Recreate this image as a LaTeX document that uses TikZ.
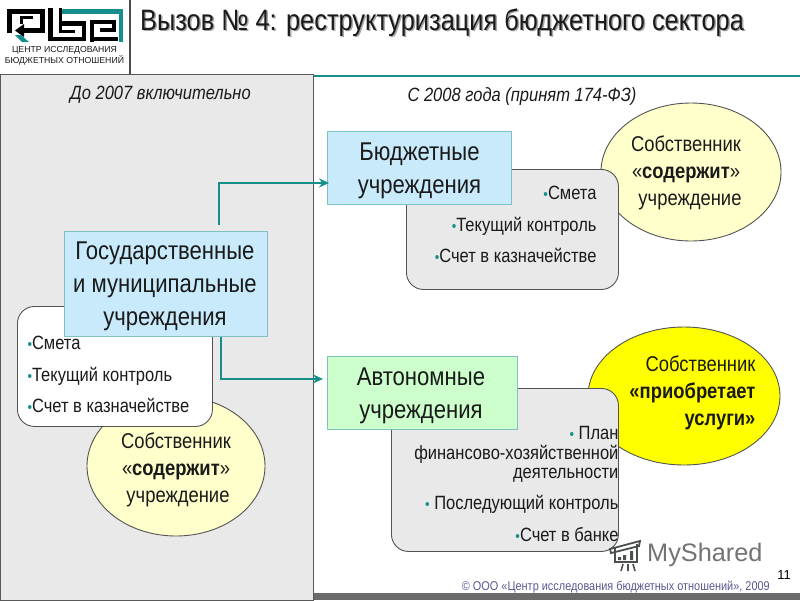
\documentclass[tikz,border=0pt]{standalone}
\usepackage{fontspec}
\setmainfont{Liberation Sans}
\newfontfamily\nf[FakeStretch=0.86]{Liberation Sans}
\usetikzlibrary{arrows.meta,calc}
\definecolor{teal1}{HTML}{168F8C}
\definecolor{panel}{HTML}{E9E9E9}
\definecolor{ylw}{HTML}{FFFFCC}
\definecolor{ylw2}{HTML}{FFFF00}
\definecolor{bluebox}{HTML}{C8EAFB}
\definecolor{greenbox}{HTML}{CCFFCC}
\definecolor{ink}{HTML}{1A1A1A}
\definecolor{wm}{HTML}{4A4F4F}
\tikzset{
 bigbox/.style={draw=teal1!55!white,line width=.9pt,inner sep=0pt},
 bigtxt/.style={align=center,font=\nf\fontsize{25.7}{33}\selectfont,text=ink,inner sep=0pt},
 note/.style={draw=ink!75,line width=.9pt,rounded corners=17pt,inner sep=0pt},
 body/.style={font=\nf\fontsize{19.2}{31}\selectfont,text=ink,align=center},
 sm/.style={font=\nf\fontsize{19.2}{23}\selectfont,text=ink},
 ownertxt/.style={font=\nf\fontsize{21.4}{27}\selectfont,text=ink},
 capt/.style={font=\nf\itshape\fontsize{19.2}{20}\selectfont,text=ink},
 link/.style={draw=teal1,line width=2.6pt,-{Stealth[length=10pt,width=9pt]}},
 lgk/.style={line width=4.5pt,line cap=butt,miter limit=10,black},
 lgi/.style={line width=3.6pt,line cap=butt,black},
 lgt/.style={line width=4.5pt,line cap=butt,teal1}
}
\newcommand{\bu}{\textcolor{teal1}{\fontsize{15}{15}\selectfont\textbullet}}
\begin{document}
\begin{tikzpicture}[x=1pt,y=-1pt]
\useasboundingbox (0,0) rectangle (800,600);
\fill[white] (0,0) rectangle (800,600);
% frame
\draw[teal1,line width=2pt] (313,76) -- (800,76);
\draw[black!70,line width=1.2pt] (130,0) -- (130,74);
\fill[black!58] (313,593) rectangle (800,600);
\node[draw=black!65,fill=panel,line width=1.4pt,minimum width=313pt,minimum height=526pt,anchor=north west,inner sep=0pt] (panel) at (0,74) {};
% logo
\draw[lgk] (9.5,33) -- (9.5,11.5) -- (42.5,11.5) -- (42.5,30.5) -- (22,30.5);
\draw[lgi] (21.5,24) -- (21.5,17.5) -- (33,17.5);
\fill[black] (15,30.5) -- (24,24) -- (24,37) -- cycle;
\fill[teal1] (15,35) -- (21,35) -- (29,42) -- (22,42) -- cycle;
\draw[lgk] (50.5,8) -- (50.5,39) -- (84,39) -- (84,23.5) -- (62,23.5);
\draw[lgi] (60.5,8) -- (60.5,31.5) -- (75,31.5);
\draw[lgt] (62,11.5) -- (121,11.5) -- (121,42);
\draw[lgk] (92,42) -- (92,22) -- (114,22) -- (114,30) -- (100,30);
\draw[lgk] (92,39) -- (118,39);
\node[font=\fontsize{8.7}{10}\selectfont,text=ink,inner sep=0pt] (lg1) at (64.5,50) {ЦЕНТР ИССЛЕДОВАНИЯ};
\node[font=\fontsize{8.7}{10}\selectfont,text=ink,inner sep=0pt] (lg2) at (64.5,60) {БЮДЖЕТНЫХ ОТНОШЕНИЙ};
% title
\node[font=\nf\fontsize{29.5}{30}\selectfont,text=black!35,anchor=west,inner sep=0pt] (titleshadow) at (141.5,24) {Вызов № 4: реструктуризация бюджетного сектора};
\node[font=\nf\fontsize{29.5}{30}\selectfont,text=ink,anchor=west,inner sep=0pt] (title) at (140,22.5) {Вызов № 4: реструктуризация бюджетного сектора};
% captions
\node[capt] (c1) at (160.5,95) {До 2007 включительно};
\node[capt] (c2) at (522,97) {С 2008 года (принят 174-ФЗ)};
% top right
\path[draw=ink!75,fill=ylw,line width=.9pt] (691,172) ellipse (90pt and 69pt);
\node[ownertxt,anchor=north,align=center] (o1) at (686,132.5) {Собственник\\«\textbf{содержит}»\\\hspace{8pt}учреждение};
\node[note,fill=panel,minimum width=212pt,minimum height=120pt,anchor=north west] (n1) at (406,169) {};
\node[body,anchor=north east] (n1a) at (600,183) {\bu Смета};
\node[body,anchor=north east] (n1b) at (600,214) {\bu Текущий контроль};
\node[body,anchor=north east] (n1c) at (600,245) {\bu Счет в казначействе};
\node[bigbox,fill=bluebox,minimum width=184pt,minimum height=73pt,anchor=north west] (bud) at (327,131) {};
\node[bigtxt] (budt) at ($(bud.center)+(0,3)$) {Бюджетные\\учреждения};
% bottom right
\path[draw=ink!75,fill=ylw2,line width=.9pt] (684,396) ellipse (96pt and 69pt);
\node[ownertxt,anchor=north east,align=right] (o2) at (759,352.5) {Собственник\\\textbf{«приобретает}\\\textbf{услуги»}};
\node[note,fill=panel,minimum width=227pt,minimum height=163pt,anchor=north west] (n2) at (391,388) {};
\node[sm,align=right,anchor=north east,font=\nf\fontsize{19.2}{19.5}\selectfont] (n2a) at (622,423) {\bu\ План\\финансово-хозяйственной\\деятельности};
\node[sm,anchor=north east] (n2b) at (622,492) {\bu\ Последующий контроль};
\node[sm,anchor=north east] (n2c) at (622,524) {\bu Счет в банке};
\node[bigbox,fill=greenbox,minimum width=190pt,minimum height=73pt,anchor=north west] (avt) at (327,356) {};
\node[bigtxt] (avtt) at ($(avt.center)+(-1.5,3)$) {Автономные\\учреждения};
% left
\path[draw=ink!75,fill=ylw,line width=.9pt] (176,466) ellipse (89pt and 70pt);
\node[ownertxt,anchor=north,align=center] (o3) at (176,429.5) {Собственник\\«\textbf{содержит}»\\\hspace{4pt}учреждение};
\node[note,fill=white,minimum width=195pt,minimum height=120pt,anchor=north west] (n3) at (17,306) {};
\node[body,anchor=north west] (n3a) at (24,333) {\bu Смета};
\node[body,anchor=north west] (n3b) at (24,364) {\bu Текущий контроль};
\node[body,anchor=north west] (n3c) at (24,395) {\bu Счет в казначействе};
\node[bigbox,fill=bluebox,minimum width=203pt,minimum height=105pt,anchor=north west] (gos) at (64,231) {};
\node[bigtxt] (gost) at ($(gos.center)+(-1,2.5)$) {Государственные\\и муниципальные\\учреждения};
% connectors
\coordinate (g1) at ($(gos.north west)+(155,-6)$);
\coordinate (g2) at ($(gos.south west)+(157,0)$);
\coordinate (b1) at ($(bud.west)+(2,15)$);
\coordinate (a1) at ($(avt.west)+(-4,-14)$);
\draw[link] (g1) -- (g1 |- b1) -- (b1);
\draw[link] (g2) -- (g2 |- a1) -- (a1);
% footer
\node[font=\nf\fontsize{12.7}{14}\selectfont,text=blue!35!black!65,anchor=east,inner sep=0pt] (foot) at (770,587) {© ООО «Центр исследования бюджетных отношений», 2009};
\node[font=\fontsize{13}{15}\selectfont,text=black,inner sep=0pt] (pg) at (784,575) {11};
% watermark
\node[font=\fontsize{25.3}{30}\selectfont,text=black!55,anchor=west,inner sep=0pt] (ms) at (647,555) {MyShared};
\draw[wm,line width=1.8pt] (615,548) -- (615,562) -- (637,562) -- (637,544);
\draw[wm,line width=1.8pt] (610,549) -- (640,541) -- (639,546) -- (611,553) -- cycle;
\fill[wm] (618,557) rectangle (621,560) (623,555) rectangle (626,560) (630,551) rectangle (633,560);
\draw[wm,line width=1.6pt] (623,564) -- (621,571) (628,564) -- (628,571) (633,564) -- (635,571);
\end{tikzpicture}
\end{document}
